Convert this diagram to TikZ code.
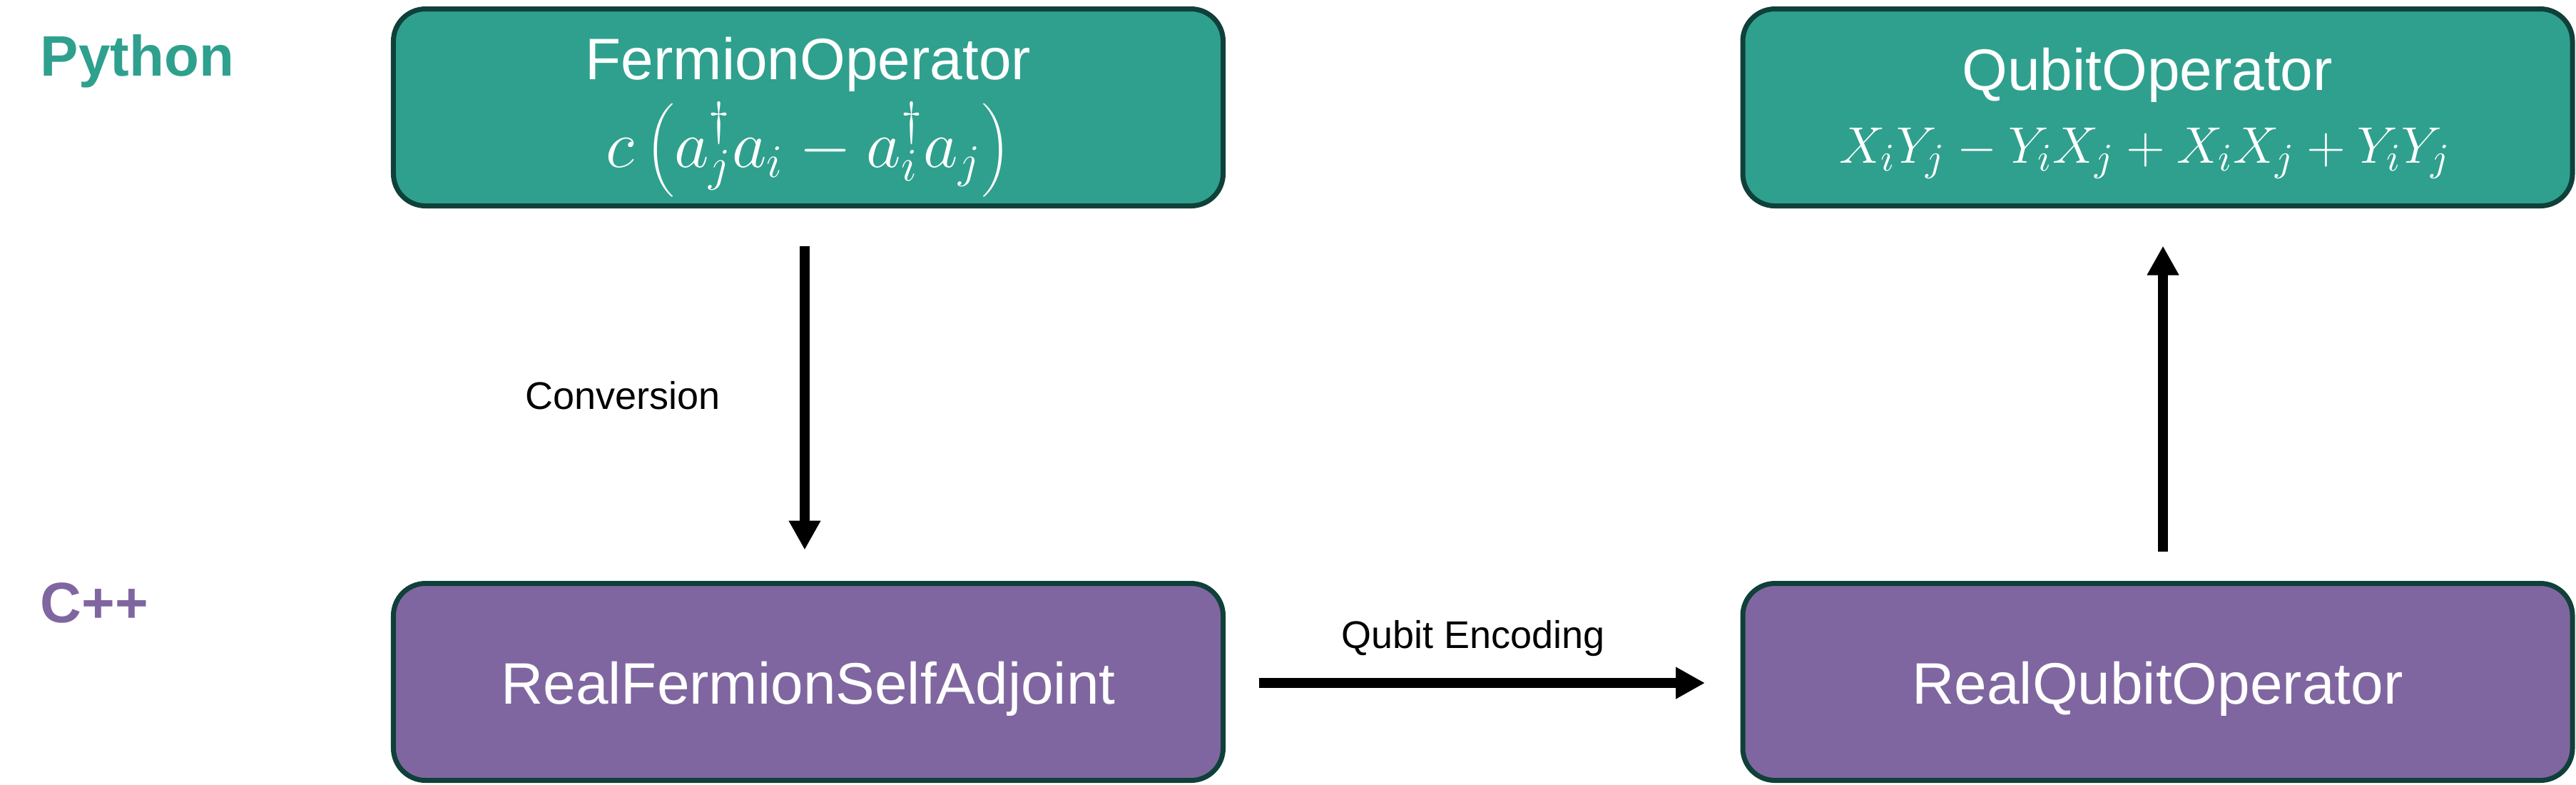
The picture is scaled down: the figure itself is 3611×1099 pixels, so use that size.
\documentclass[tikz,border=0pt]{standalone}
\usepackage{graphicx}
\usepackage{fontspec}
\setmainfont{Liberation Sans}
\usetikzlibrary{arrows.meta}
\definecolor{tealc}{RGB}{47,160,142}
\definecolor{purc}{RGB}{128,102,160}
\definecolor{edgec}{RGB}{15,64,57}
\begin{document}
\begin{tikzpicture}[x=0.2pt,y=-0.2pt,
 box/.style={draw=edgec, line width=1.4pt, rounded corners=9pt, minimum width=232.6pt, minimum height=55.2pt, inner sep=0pt},
 tealbox/.style={box, fill=tealc},
 purbox/.style={box, fill=purc},
 boxtxt/.style={text=white, font=\fontsize{16.4}{19}\selectfont, anchor=base, inner sep=0pt},
 mathtxt/.style={text=white, font=\fontsize{15.2}{18}\selectfont, anchor=base, inner sep=0pt},
 lbl/.style={font=\fontsize{10.8}{13}\selectfont, anchor=base, inner sep=0pt},
 lang/.style={font=\fontsize{16}{19}\selectfont\bfseries, anchor=base west, inner sep=0pt},
 arr/.style={line width=2.8pt, -{Triangle[length=8.2pt,width=8.4pt]}}]
\useasboundingbox (0,0) rectangle (3611,1099);
\node[lang, text=tealc] (py) at (56,106) {Python};
\node[lang, text=purc] (cpp) at (56,872) {C++};
\node[tealbox] (fo) at (1133,150.5) {};
\node[tealbox] (qo) at (3024.5,150.5) {};
\node[purbox] (rf) at (1133,955.5) {};
\node[purbox] (rq) at (3024.5,955.5) {};
\node[boxtxt] (fot) at (1133,111) {FermionOperator};
\node[boxtxt] (fom) at (1133,234) {\scalebox{1.09}{$c\left(a_j^\dagger a_i - a_i^\dagger a_j\right)$}};
\node[boxtxt] (qot) at (3010,126) {QubitOperator};
\node[mathtxt] (qom) at (3007,228) {$X_iY_j - Y_iX_j + X_iX_j + Y_iY_j$};
\node[boxtxt] (rft) at (1133,986) {RealFermionSelfAdjoint};
\node[boxtxt] (rqt) at (3024.5,986) {RealQubitOperator};
\node[lbl] (conv) at (873,573) {Conversion};
\node[lbl] (enc) at (2065,908) {Qubit Encoding};
\draw[arr] ([xshift=-1pt,yshift=-10.5pt]fo.south) -- ([xshift=-1pt,yshift=8.7pt]rf.north);
\draw[arr] ([xshift=9.3pt,yshift=-0.3pt]rf.east) -- ([xshift=-9.9pt,yshift=-0.3pt]rq.west);
\draw[arr] ([xshift=1.5pt,yshift=8.3pt]rq.north) -- ([xshift=1.5pt,yshift=-10.5pt]qo.south);
\end{tikzpicture}
\end{document}
